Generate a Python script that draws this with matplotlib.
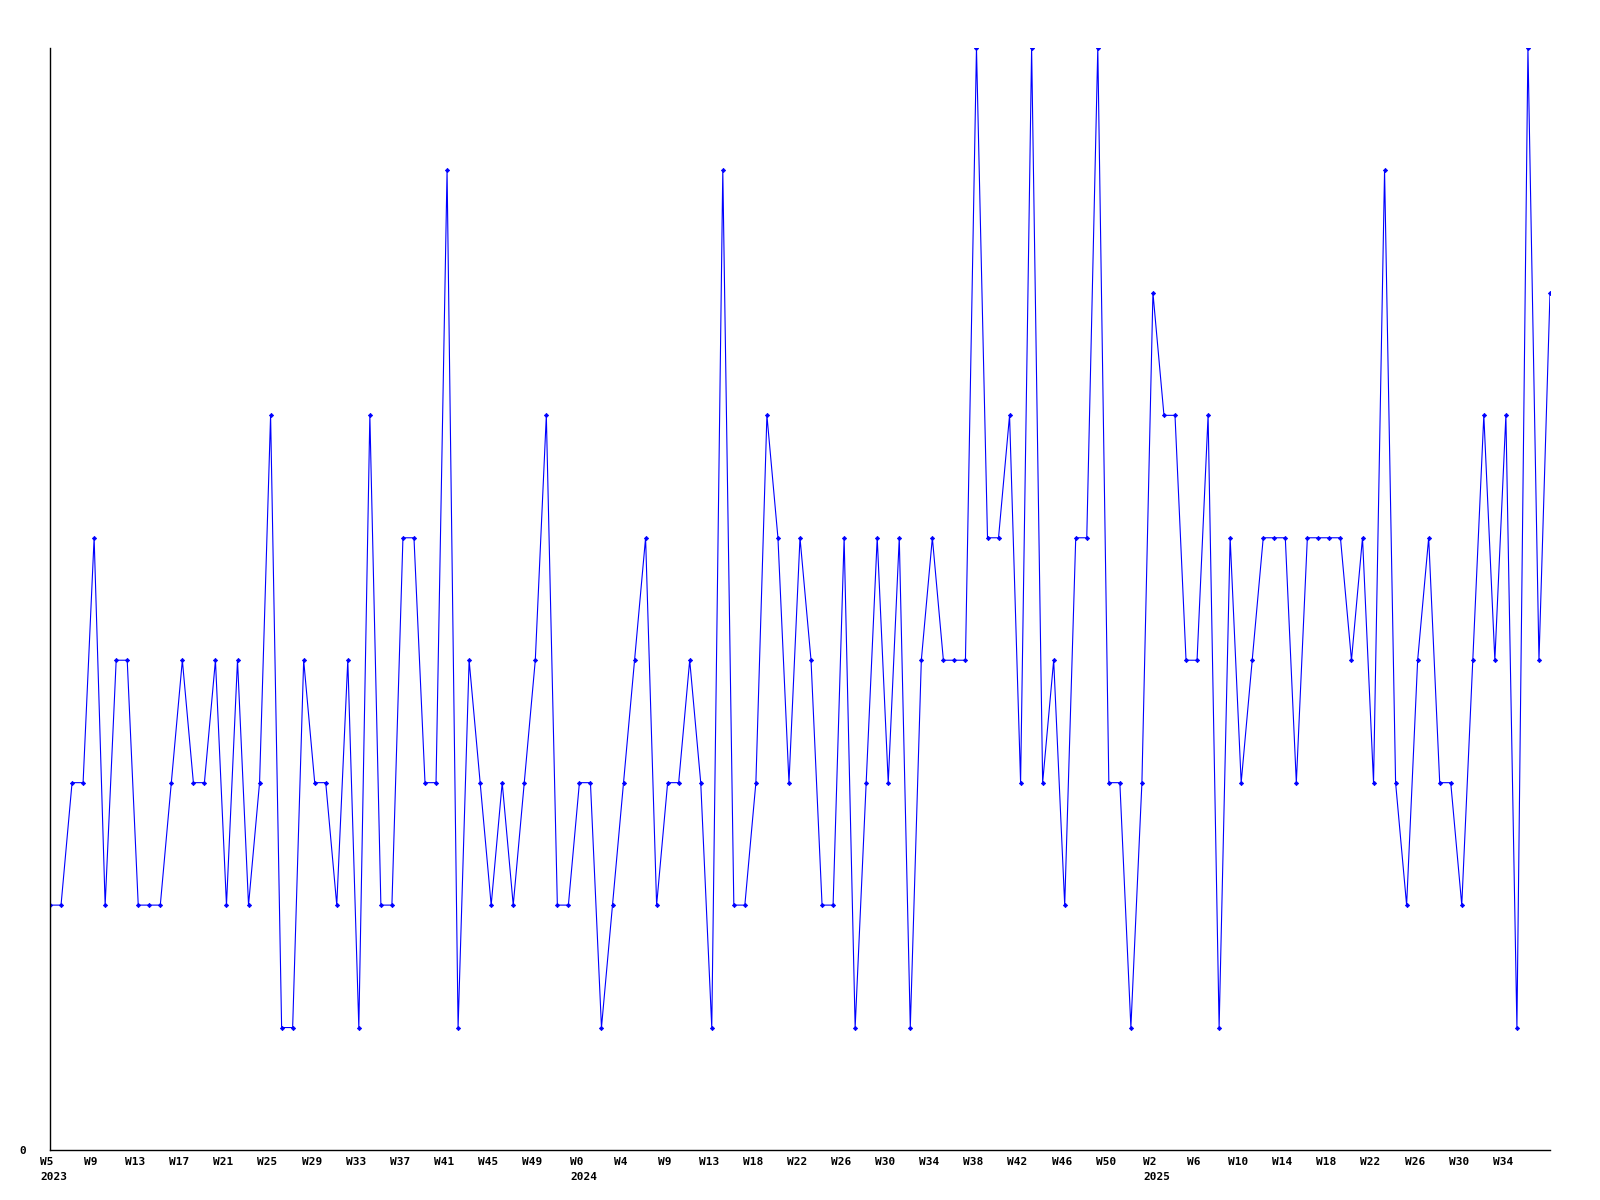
#!/usr/bin/env python3
"""Weekly count line chart, 2023 W5 to 2025."""

import matplotlib

matplotlib.use("Agg")
import matplotlib.pyplot as plt
from matplotlib.transforms import ScaledTranslation, blended_transform_factory

# one value per week, oldest first
counts = [
    2, 2, 3, 3, 5, 2, 4, 4, 2, 2, 2, 3, 4, 3, 3, 4, 2, 4, 2, 3,
    6, 1, 1, 4, 3, 3, 2, 4, 1, 6, 2, 2, 5, 5, 3, 3, 8, 1, 4, 3,
    2, 3, 2, 3, 4, 6, 2, 2, 3, 3, 1, 2, 3, 4, 5, 2, 3, 3, 4, 3,
    1, 8, 2, 2, 3, 6, 5, 3, 5, 4, 2, 2, 5, 1, 3, 5, 3, 5, 1, 4,
    5, 4, 4, 4, 9, 5, 5, 6, 3, 9, 3, 4, 2, 5, 5, 9, 3, 3, 1, 3,
    7, 6, 6, 4, 4, 6, 1, 5, 3, 4, 5, 5, 5, 3, 5, 5, 5, 5, 4, 5,
    3, 8, 3, 2, 4, 5, 3, 3, 2, 4, 6, 4, 6, 1, 9, 4, 7,
]

# a label on every fourth week
week_labels = [
    "W5", "W9", "W13", "W17", "W21", "W25", "W29", "W33", "W37", "W41",
    "W45", "W49", "W0", "W4", "W9", "W13", "W18", "W22", "W26", "W30",
    "W34", "W38", "W42", "W46", "W50", "W2", "W6", "W10", "W14", "W18",
    "W22", "W26", "W30", "W34",
]
label_step = 4

years = ["2023", "2024", "2025"]
year_start_weeks = [0, 48, 100]


def main() -> None:
    font = {"family": "DejaVu Sans Mono", "weight": "bold", "size": 8}

    fig = plt.figure(figsize=(16, 12), dpi=100)
    ax = fig.add_axes([50 / 1600, 1 - 1150 / 1200, 1500 / 1600, 1102 / 1200])

    weeks = list(range(len(counts)))
    ax.plot(weeks, counts, color="#0000ff", linewidth=0.8,
            marker="D", markersize=2.2, markeredgewidth=0.5)

    ax.set_xlim(0, len(counts) - 1)
    ax.set_ylim(0, max(counts))

    for side in ("top", "right"):
        ax.spines[side].set_visible(False)
    for side in ("left", "bottom"):
        ax.spines[side].set_color("black")
        ax.spines[side].set_linewidth(1.0)

    ticks = [i * label_step for i in range(len(week_labels))]
    ax.set_xticks(ticks)
    ax.set_xticklabels(week_labels, fontdict=font)
    ax.tick_params(axis="x", length=0, pad=5)
    shift = ScaledTranslation(-3 / 100, 0, fig.dpi_scale_trans)
    for label in ax.get_xticklabels():
        label.set_transform(label.get_transform() + shift)

    ax.set_yticks([0])
    ax.set_yticklabels(["0"], fontdict=font)
    ax.tick_params(axis="y", length=0, pad=17)

    trans = blended_transform_factory(ax.transData, ax.transAxes)
    for name, start in zip(years, year_start_weeks, strict=True):
        ax.text(start - 0.85, -0.0245, name, transform=trans,
                ha="left", va="center", **font)

    fig.savefig("out.png", dpi=100, facecolor="white")
    plt.close(fig)


if __name__ == "__main__":
    main()
